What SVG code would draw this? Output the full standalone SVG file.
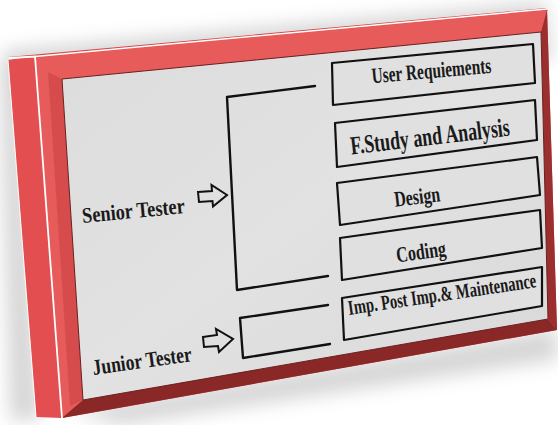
<svg xmlns="http://www.w3.org/2000/svg" width="558" height="425" viewBox="0 0 558 425">
<defs>
<filter id="blur" x="-20%" y="-20%" width="140%" height="140%"><feGaussianBlur stdDeviation="9"/></filter>
<linearGradient id="face" x1="0" y1="0" x2="1" y2="1">
<stop offset="0" stop-color="#dcdcdc"/>
<stop offset="0.5" stop-color="#e2e2e2"/>
<stop offset="1" stop-color="#d8d8d8"/>
</linearGradient>
<style>
.box{fill:#e0e0e0;stroke:#111;stroke-width:2.2;stroke-linejoin:round}
.lbl{font-family:"Liberation Serif","Times New Roman",serif;font-weight:bold;fill:#1a1a1a;text-anchor:middle}
.ln{fill:none;stroke:#111;stroke-width:2.4;stroke-linecap:round;stroke-linejoin:round}
.arr{fill:#e0e0e0;stroke:#111;stroke-width:2;stroke-linejoin:miter}
</style>
</defs>
<rect width="558" height="425" fill="#ffffff"/>
<g id="shadow" opacity="0.4" filter="url(#blur)">
<polygon points="4,50 545,2 552,60 20,110" fill="#9a9a9a"/>
<polygon points="70,410 556,328 558,360 120,425" fill="#9a9a9a"/>
<polygon points="0,60 20,60 40,420 10,420" fill="#9a9a9a"/>
</g>
<g id="frame">
<polygon points="8,60 35,56 62,418 36,417" fill="#e34f50"/>
<polygon points="8,57 546,8 548,11 35,58" fill="#d94848"/>
<polygon points="35,57 547,10 557,330 62,418" fill="#e85b5b"/>
<polygon points="48,72 62,79 83,400 70,406" fill="#cf4646" opacity="0.7"/>
<polygon points="83,400 548,319 557,330 62,418" fill="#8a2727"/>
<polygon points="541,32 547,10 557,330 548,319" fill="#9b2e2e"/>
<polygon points="62,79 541,32 548,319 83,400" fill="url(#face)" stroke="#6a2020" stroke-width="1"/>
<polyline points="9,58 35,56.5 62,418" fill="none" stroke="#ffffff" stroke-width="1.8"/>
<line x1="35" y1="56.5" x2="547" y2="9" stroke="#ffffff" stroke-width="1.5"/>
<line x1="8" y1="60" x2="36" y2="417" stroke="#ffffff" stroke-width="1"/>
</g>
<g id="connectors">
<polyline class="ln" points="315,86 227,97 237,290 328,276"/>
<polyline class="ln" points="328,305 240,318 243,358 330,344"/>
<path class="arr" d="M198,192 L212,191 L211.5,185 L227,195 L213,206.5 L212.5,201 L199,202 Z"/>
<path class="arr" d="M203,337 L217,335 L216,329 L233,339 L219,352 L218,346 L204,347 Z"/>
</g>
<g id="senior-tester">
<text class="lbl" x="0" y="0" font-size="17" textLength="103" lengthAdjust="spacingAndGlyphs" transform="translate(134,218) rotate(-5.5) scale(1,1.3)">Senior Tester</text>
</g>
<g id="junior-tester">
<text class="lbl" x="0" y="0" font-size="17" textLength="100" lengthAdjust="spacingAndGlyphs" transform="translate(143,368) rotate(-8) scale(1,1.3)">Junior Tester</text>
</g>
<g id="user-requirements">
<polygon class="box" points="332,63 533,44 535,83 333,105"/>
<text class="lbl" x="0" y="0" font-size="17" textLength="120" lengthAdjust="spacingAndGlyphs" transform="translate(432,78) rotate(-5) scale(1,1.3)">User Requiements</text>
</g>
<g id="study-analysis">
<polygon class="box" points="335,123 535,100 537,140 337,167"/>
<text class="lbl" x="0" y="0" font-size="20" textLength="160" lengthAdjust="spacingAndGlyphs" transform="translate(431,145) rotate(-6.8) scale(1,1.3)">F.Study and Analysis</text>
</g>
<g id="design">
<polygon class="box" points="337,183 537,157 540,195 340,225"/>
<text class="lbl" x="0" y="0" font-size="17" textLength="46" lengthAdjust="spacingAndGlyphs" transform="translate(418,204) rotate(-7) scale(1,1.3)">Design</text>
</g>
<g id="coding">
<polygon class="box" points="340,238 540,210 542,248 342,280"/>
<text class="lbl" x="0" y="0" font-size="17" textLength="50" lengthAdjust="spacingAndGlyphs" transform="translate(422,259) rotate(-8) scale(1,1.3)">Coding</text>
</g>
<g id="maintenance">
<polygon class="box" points="342,298 542,267 542,306 344,340"/>
<text class="lbl" x="0" y="0" font-size="16" textLength="190" lengthAdjust="spacingAndGlyphs" transform="translate(443,301) rotate(-8.4) scale(1,1.3)">Imp. Post Imp.&amp; Maintenance</text>
</g>
</svg>
